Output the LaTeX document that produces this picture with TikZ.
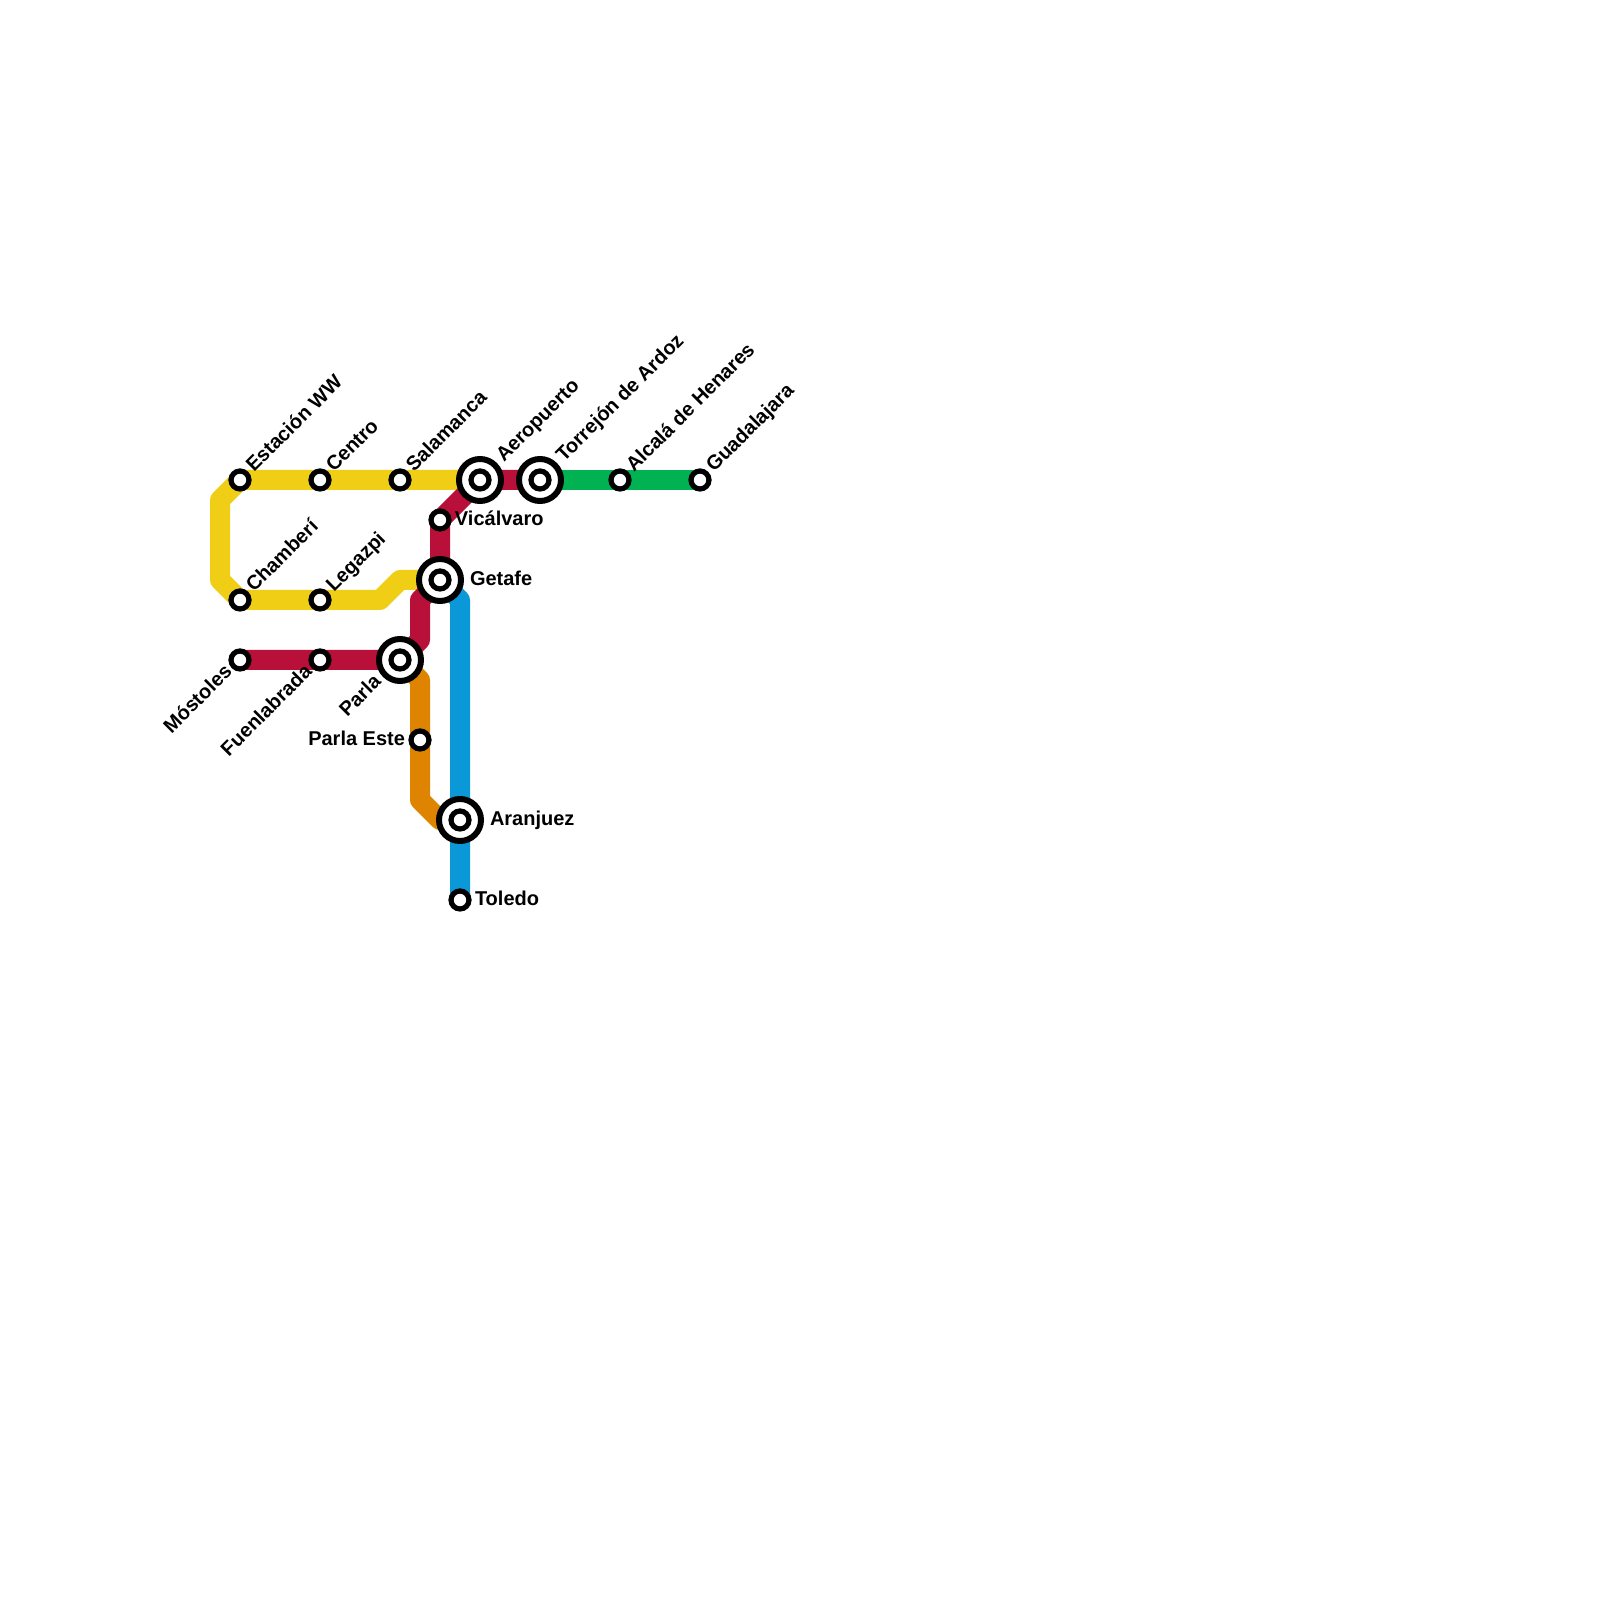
\documentclass[tikz,border=0pt]{standalone}
\usepackage{fontspec}
\setmainfont{Liberation Sans}
\usetikzlibrary{backgrounds}
\definecolor{lineyellow}{HTML}{F0CE15}
\definecolor{linered}{HTML}{B9103A}
\definecolor{lineblue}{HTML}{0A98D8}
\definecolor{lineorange}{HTML}{DE8400}
\definecolor{linegreen}{HTML}{00B251}
\tikzset{
  station/.style={circle,draw=black,fill=white,line width=1.3pt,minimum size=4.5pt,inner sep=0pt},
  hub/.style={circle,draw=black,fill=white,line width=1.5pt,minimum size=10.5pt,inner sep=0pt},
  metro/.style={line width=5pt,line join=round},
  lbl/.style={font=\fontsize{5pt}{6pt}\selectfont\bfseries,inner sep=0pt,outer sep=0pt},
  lblup/.style={lbl,rotate=45,anchor=base west},
  lbldown/.style={lbl,rotate=45,anchor=base east},
  lblright/.style={lbl,anchor=base west},
  lblleft/.style={lbl,anchor=base east}
}
\begin{document}
\begin{tikzpicture}[x=1pt,y=1pt,scale=.25]
    \useasboundingbox (0,0) rectangle (1600,1600);
    \node[station] (estacion) at (240, 1120) {};
    \node[station] (centro) at (320, 1120) {};
    \node[station] (salamanca) at (400, 1120) {};
    \node[hub] (aeropuerto) at (480, 1120) {};
    \node[station] (aeropuertoin) at (480, 1120) {};
    \node[hub] (torrejon) at (540, 1120) {};
    \node[station] (torrejonin) at (540, 1120) {};
    \node[station] (alcala) at (620, 1120) {};
    \node[station] (guadalajara) at (700, 1120) {};
    \node[station] (vicalvaro) at (440, 1080) {};
    \node[hub] (getafe) at (440, 1020) {};
    \node[station] (getafein) at (440, 1020) {};
    \node[station] (chamberi) at (240, 1000) {};
    \node[station] (legazpi) at (320, 1000) {};
    \node[station] (mostoles) at (240, 940) {};
    \node[station] (fuenlabrada) at (320, 940) {};
    \node[hub] (parla) at (400, 940) {};
    \node[station] (parlain) at (400, 940) {};
    \node[station] (parlaeste) at (420, 860) {};
    \node[hub] (aranjuez) at (460, 780) {};
    \node[station] (aranjuezin) at (460, 780) {};
    \node[station] (toledo) at (460, 700) {};
    % bends
    \coordinate (yellowa) at (220, 1100);
    \coordinate (yellowb) at (220, 1020);
    \coordinate (yellowc) at (380, 1000);
    \coordinate (yellowd) at (400, 1020);
    \coordinate (reda) at (420, 960);
    \coordinate (redb) at (420, 1000);
    \coordinate (bluea) at (460, 1000);
    \coordinate (orangea) at (420, 920);
    \coordinate (orangeb) at (420, 800);
    \coordinate (orangec) at (440, 780);
    \begin{scope}[on background layer]
    \draw[metro,lineyellow] (aeropuerto.center) -- (estacion.center) -- (yellowa) -- (yellowb) -- (chamberi.center) -- (yellowc) -- (yellowd) -- (getafe.center);
    \draw[metro,linered] (mostoles.center) -- (parla.center) -- (reda) -- (redb) -- (getafe.center) -- (vicalvaro.center) -- (aeropuerto.center) -- (torrejon.center);
    \draw[metro,lineblue] (getafe.center) -- (bluea) -- (toledo.center);
    \draw[metro,lineorange] (parla.center) -- (orangea) -- (orangeb) -- (orangec) -- (aranjuez.center);
    \draw[metro,linegreen] (torrejon.center) -- (guadalajara.center);
    \end{scope}
    \node[lblup] (estaciontxt) at (254, 1127) {Estación WW};
    \node[lblup] (centrotxt) at (334, 1127) {Centro};
    \node[lblup] (salamancatxt) at (414, 1127) {Salamanca};
    \node[lblup] (aeropuertotxt) at (504, 1137) {Aeropuerto};
    \node[lblup] (torrejontxt) at (564, 1137) {Torrejón de Ardoz};
    \node[lblup] (alcalatxt) at (634, 1127) {Alcalá de Henares};
    \node[lblup] (guadalajaratxt) at (714, 1127) {Guadalajara};
    \node[lblup] (chamberitxt) at (254, 1007) {Chamberí};
    \node[lblup] (legazpitxt) at (334, 1007) {Legazpi};
    \node[lblright] (vicalvarotxt) at (455, 1074) {Vicálvaro};
    \node[lblright] (getafetxt) at (470, 1014) {Getafe};
    \node[lblright] (aranjueztxt) at (490, 774) {Aranjuez};
    \node[lblright] (toledotxt) at (475, 694) {Toledo};
    \node[lblleft] (parlaestetxt) at (405, 854) {Parla Este};
    \node[lbldown] (mostolestxt) at (233, 927) {Móstoles};
    \node[lbldown] (fuenlabradatxt) at (313, 927) {Fuenlabrada};
    \node[lbldown] (parlatxt) at (382, 917) {Parla};
\end{tikzpicture}
\end{document}
